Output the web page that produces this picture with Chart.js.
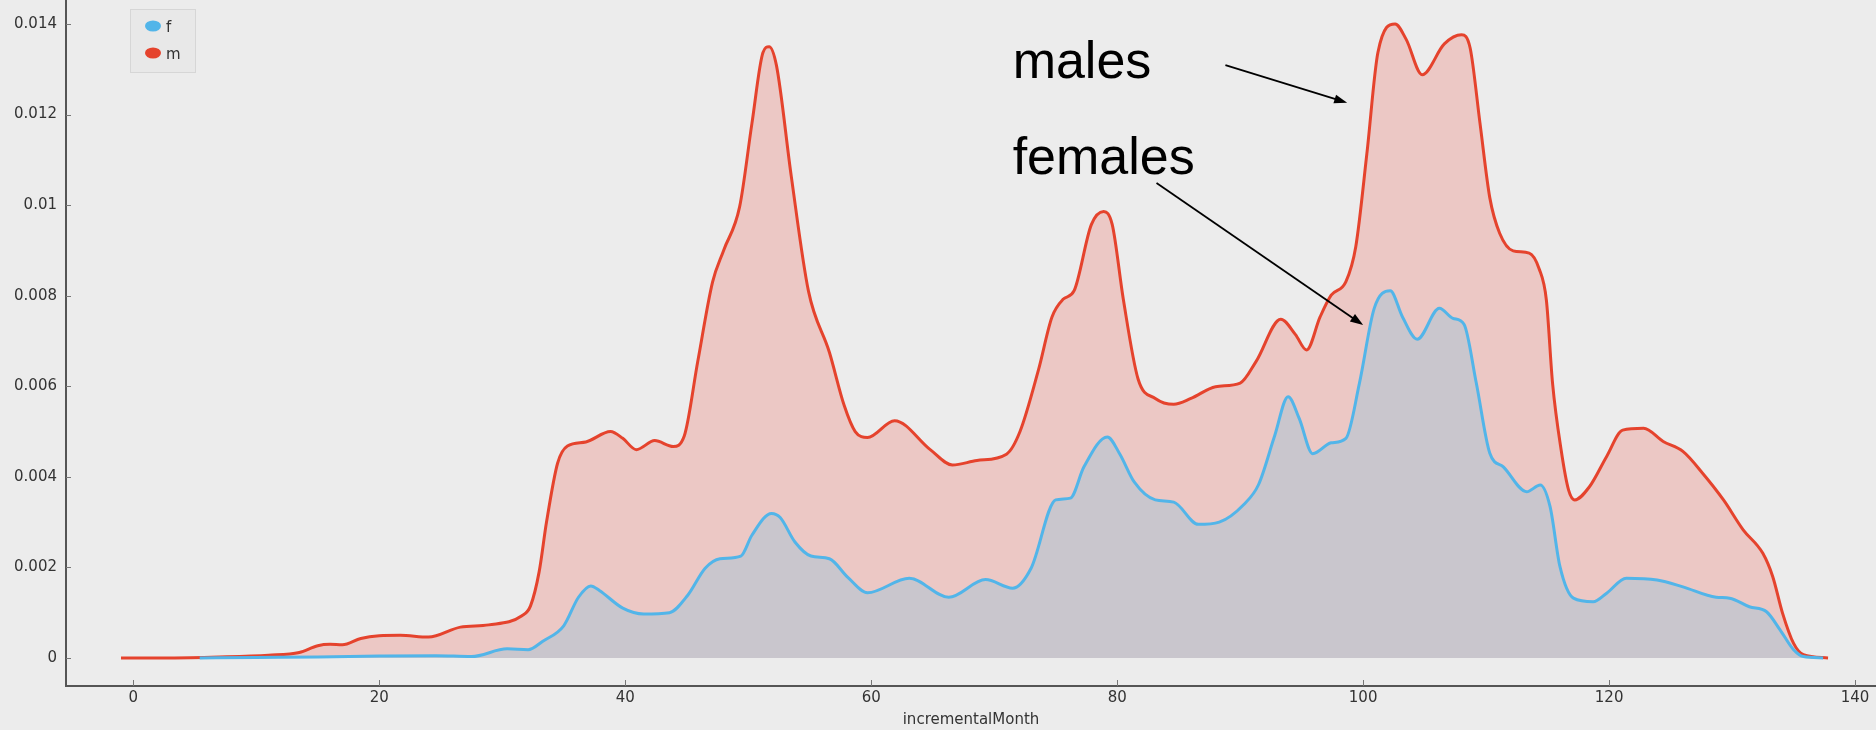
<!DOCTYPE html>
<html>
<head>
<meta charset="utf-8">
<script src="https://cdn.jsdelivr.net/npm/chart.js@4.4.1/dist/chart.umd.min.js"></script>
<style>
  html, body { margin: 0; padding: 0; background: #ececec; }
  #wrap { position: relative; width: 1876px; height: 730px; }
</style>
</head>
<body>
<div id="wrap"><canvas id="density"></canvas></div>
<script>
// males density
var monthsM = [-1, 3, 7, 11, 13.5, 15, 16, 17, 18.5, 20, 21.7, 24, 26.6, 28.9, 31.6, 32.3, 33, 33.6, 34.5, 35.3,
  36.8, 38.8, 39.8, 40.9, 42.4, 43.9, 44.8, 45.9, 47.1, 48, 49.3, 50.3, 51.2, 51.7, 52.3, 53.5, 54.9, 56.6, 57.8, 58.7,
  59.7, 61.9, 64.8, 66.6, 68.6, 71, 72.1, 73.6, 74.7, 75.6, 76.5, 77.9, 78.9, 79.6, 80.5, 81.7, 83.1, 84.6, 86, 88,
  90, 91.3, 93.3, 94.5, 95.4, 96.5, 97.4, 98.6, 99.4, 100.3, 101.2, 102.6, 103.5, 104.8, 106.6, 108, 108.7, 109.5, 110.3, 111.1,
  112.2, 113.5, 114.3, 114.9, 115.4, 116.1, 116.7, 117.2, 118.4, 119.8, 121.1, 122.8, 124.4, 126, 127.6, 129.3, 130.9, 132.5, 133.3, 134.1,
  135, 135.8, 137.8]
var valuesM = [0, 0, 0.00002, 0.00006, 0.00012, 0.00027, 0.0003, 0.00029, 0.00043, 0.00049, 0.0005, 0.00046, 0.00068, 0.00073, 0.00093, 0.00115, 0.0019, 0.003, 0.0043, 0.00468,
  0.00477, 0.005, 0.00485, 0.0046, 0.0048, 0.00467, 0.0049, 0.00655, 0.0083, 0.009, 0.00996, 0.0118, 0.01337, 0.0135, 0.01308, 0.01064, 0.0081, 0.00675, 0.00558, 0.005,
  0.00487, 0.00524, 0.0046, 0.00426, 0.00436, 0.0045, 0.005, 0.00636, 0.00753, 0.00792, 0.00811, 0.00957, 0.00986, 0.00957, 0.00792, 0.00616, 0.00573, 0.0056, 0.00573, 0.00599,
  0.00607, 0.00655, 0.00748, 0.00714, 0.0068, 0.00753, 0.00801, 0.00831, 0.00908, 0.01113, 0.01337, 0.014, 0.01366, 0.01288, 0.01356, 0.01376, 0.01347, 0.01181, 0.01016, 0.00938,
  0.00899, 0.00894, 0.0086, 0.0079, 0.00607, 0.00459, 0.00371, 0.00349, 0.00378, 0.00445, 0.00503, 0.00507, 0.00478, 0.00456, 0.00408, 0.00349, 0.00283, 0.00231, 0.0018, 0.00099,
  0.00032, 0.00007, 0]

// females density
var monthsF = [5.4, 10, 15, 20, 24.6, 27.5, 30.4, 32.1, 33.3, 35, 36.2, 37.2, 37.9, 39.8, 41.5, 43.6, 45.1, 46.5, 47.7, 49.4,
  50.3, 51.9, 52.6, 53.8, 55.1, 56.6, 58.1, 59.7, 63.1, 66.3, 69.3, 71.5, 73, 75, 76.2, 77.3, 79.2, 80.2, 81.4, 83.1,
  84.6, 86.6, 88.3, 90.3, 91.5, 92.8, 93.9, 94.8, 95.9, 97.4, 98.6, 99.7, 100.9, 102.2, 103.2, 104.4, 106.2, 107.3, 108.2, 109.2,
  110.3, 111.4, 113.3, 114.4, 115.2, 116, 117.1, 118.7, 119.8, 121.4, 123.9, 126, 128.7, 129.8, 131.4, 132.8, 133.9, 135, 135.8, 137.4]
var valuesF = [0, 0.00001, 0.00002, 0.00004, 0.00005, 0.00003, 0.0002, 0.00018, 0.00037, 0.00071, 0.00134, 0.00159, 0.00149, 0.0011, 0.00097, 0.001, 0.00139, 0.00198, 0.00219, 0.00225,
  0.00271, 0.00319, 0.0031, 0.00256, 0.00225, 0.00219, 0.00178, 0.00144, 0.00176, 0.00134, 0.00173, 0.00154, 0.00198, 0.00349, 0.00353, 0.00422, 0.00488, 0.00451, 0.00388, 0.00349,
  0.00344, 0.00295, 0.003, 0.00339, 0.00383, 0.0049, 0.00577, 0.00529, 0.00451, 0.00475, 0.00485, 0.00607, 0.00772, 0.00811, 0.00753, 0.00704, 0.00772, 0.0075, 0.00737, 0.00607,
  0.00452, 0.00422, 0.00367, 0.00382, 0.00334, 0.00202, 0.00132, 0.00124, 0.00143, 0.00176, 0.00172, 0.00157, 0.00134, 0.00132, 0.00113, 0.00102, 0.00062, 0.00018, 0.00003, 0]

var xTicks = [0, 20, 40, 60, 80, 100, 120, 140]
var yTicks = [0, 0.002, 0.004, 0.006, 0.008, 0.01, 0.012, 0.014]
var yTickLabels = ['0', '0.002', '0.004', '0.006', '0.008', '0.01', '0.012', '0.014']

// labels with arrows, in data units
var notes = [
  { text: 'males', x: 71.5, y: 0.01281, fromX: 88.8, fromY: 0.01309, toX: 98.7, toY: 0.01226 },
  { text: 'females', x: 71.5, y: 0.01069, fromX: 83.2, fromY: 0.01049, toX: 100, toY: 0.00735 }
]

function points(xs, ys) {
  return xs.map(function (x, i) { return { x: x, y: ys[i] } })
}

function drawArrow(ctx, x1, y1, x2, y2) {
  var a = Math.atan2(y2 - y1, x2 - x1), len = 13, w = 4.5
  ctx.beginPath()
  ctx.moveTo(x1, y1)
  ctx.lineTo(x2 - Math.cos(a) * len * 0.8, y2 - Math.sin(a) * len * 0.8)
  ctx.stroke()
  ctx.beginPath()
  ctx.moveTo(x2, y2)
  ctx.lineTo(x2 - len * Math.cos(a) + w * Math.sin(a), y2 - len * Math.sin(a) - w * Math.cos(a))
  ctx.lineTo(x2 - len * Math.cos(a) - w * Math.sin(a), y2 - len * Math.sin(a) + w * Math.cos(a))
  ctx.closePath()
  ctx.fill()
}

var extras = {
  id: 'extras',
  afterDraw: function (chart) {
    var ctx = chart.ctx, xs = chart.scales.x, ys = chart.scales.y
    var area = chart.chartArea
    ctx.save()
    // inward tick marks
    ctx.strokeStyle = '#777'
    ctx.lineWidth = 1
    xTicks.forEach(function (t) {
      var px = Math.round(xs.getPixelForValue(t)) + 0.5
      ctx.beginPath(); ctx.moveTo(px, area.bottom); ctx.lineTo(px, area.bottom - 6); ctx.stroke()
    })
    yTicks.forEach(function (t) {
      var py = Math.round(ys.getPixelForValue(t)) + 0.5
      ctx.beginPath(); ctx.moveTo(area.left, py); ctx.lineTo(area.left + 5, py); ctx.stroke()
    })

    // legend box
    ctx.fillStyle = '#e8e8e8'
    ctx.strokeStyle = '#d6d6d6'
    ctx.fillRect(130, 9, 65, 63)
    ctx.strokeRect(130.5, 9.5, 65, 63)
    chart.data.datasets.forEach(function (ds, i) {
      var cy = 26 + i * 27
      ctx.fillStyle = ds.borderColor
      ctx.beginPath(); ctx.ellipse(153, cy, 8, 5.5, 0, 0, Math.PI * 2); ctx.fill()
      ctx.fillStyle = '#333'
      ctx.font = '15px "DejaVu Sans"'
      ctx.textBaseline = 'alphabetic'
      ctx.fillText(ds.label, 166, cy + 6)
    })

    // annotations
    ctx.fillStyle = '#000'
    ctx.strokeStyle = '#000'
    ctx.lineWidth = 1.8
    ctx.font = '52px "Liberation Sans"'
    ctx.textBaseline = 'alphabetic'
    notes.forEach(function (n) {
      ctx.fillText(n.text, xs.getPixelForValue(n.x), ys.getPixelForValue(n.y))
      drawArrow(ctx, xs.getPixelForValue(n.fromX), ys.getPixelForValue(n.fromY),
        xs.getPixelForValue(n.toX), ys.getPixelForValue(n.toY))
    })
    ctx.restore()
  }
}

var tickFont = { family: '"DejaVu Sans"', size: 15 }

new Chart(document.getElementById('density'), {
  type: 'line',
  data: {
    datasets: [{
      label: 'f',
      data: points(monthsF, valuesF),
      borderColor: '#52b5e9',
      backgroundColor: '#c9c6cd',
      borderWidth: 3,
      fill: 'origin',
      pointRadius: 0,
      cubicInterpolationMode: 'monotone'
    }, {
      label: 'm',
      data: points(monthsM, valuesM),
      borderColor: '#e5432d',
      backgroundColor: '#ecc8c5',
      borderWidth: 3,
      fill: 'origin',
      pointRadius: 0,
      cubicInterpolationMode: 'monotone'
    }]
  },
  options: {
    responsive: true,
    maintainAspectRatio: false,
    animation: false,
    layout: { padding: 0 },
    plugins: {
      legend: { display: false },
      tooltip: { enabled: false }
    },
    scales: {
      x: {
        type: 'linear',
        min: -5.47,
        max: 141.7,
        afterBuildTicks: function (scale) { scale.ticks = xTicks.map(function (v) { return { value: v } }) },
        afterFit: function (scale) {
          scale.height = 44
          scale.paddingLeft = 0
          scale.paddingRight = 0
        },
        grid: { drawOnChartArea: false, drawTicks: false },
        border: { color: '#555', width: 2 },
        ticks: { font: tickFont, color: '#333', padding: 3, maxRotation: 0 },
        title: { display: true, text: 'incrementalMonth', font: { family: '"DejaVu Sans"', size: 15 }, color: '#333', padding: { top: 0, bottom: 1 } }
      },
      y: {
        min: -0.00062,
        max: 0.01453,
        afterBuildTicks: function (scale) { scale.ticks = yTicks.map(function (v) { return { value: v } }) },
        afterFit: function (scale) {
          scale.width = 66
          scale.paddingTop = 0
          scale.paddingBottom = 0
        },
        grid: { drawOnChartArea: false, drawTicks: false },
        border: { color: '#555', width: 2 },
        ticks: {
          font: tickFont,
          color: '#333',
          padding: 9,
          callback: function (v, i) { return yTickLabels[i] }
        }
      }
    }
  },
  plugins: [extras]
})
</script>
</body>
</html>
